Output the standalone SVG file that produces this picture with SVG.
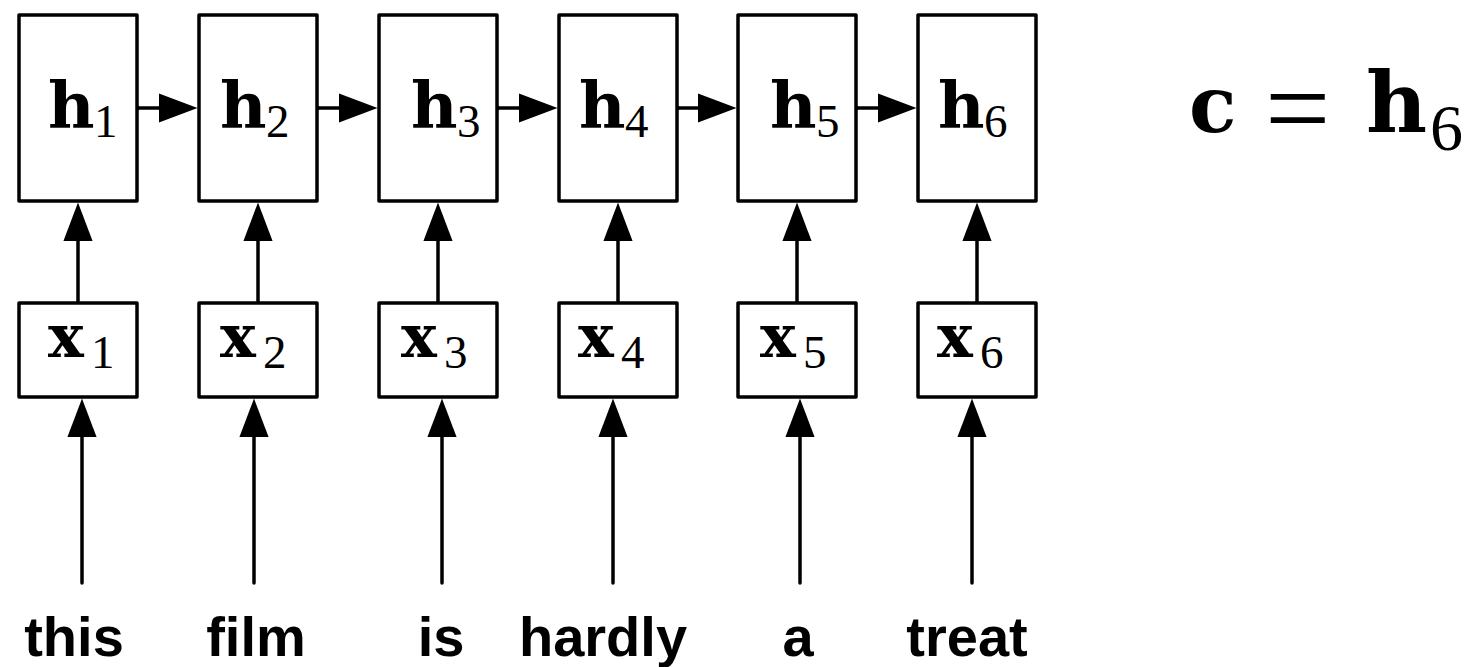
<svg xmlns="http://www.w3.org/2000/svg" width="1471" height="667" viewBox="0 0 1471 667">
  <style>
    .box { fill: #fff; stroke: #000; stroke-width: 3.5; stroke-linejoin: round; }
    .edge { fill: none; stroke: #000; stroke-width: 3.5; }
    .mb { font-family: "DejaVu Serif", serif; font-weight: bold; fill: #000; }
    .sub { font-family: "Liberation Serif", serif; font-weight: normal; fill: #000; }
    .word { font-family: "Liberation Sans", Arial, sans-serif; font-weight: bold; font-size: 56px; fill: #000; text-anchor: middle; }
  </style>
  <defs>
    <marker id="head" markerUnits="userSpaceOnUse" markerWidth="40" markerHeight="30" viewBox="0 0 38 28" refX="27" refY="14" orient="auto">
      <path d="M0,0 L37,14 L0,28 z" fill="#000"/>
    </marker>
    <marker id="dot" markerUnits="userSpaceOnUse" markerWidth="8" markerHeight="8" viewBox="0 0 8 8" refX="4" refY="4">
      <circle cx="4" cy="4" r="2.6" fill="#000"/>
    </marker>
  </defs>

  <g id="connectors">
    <!-- recurrent arrows -->
    <line class="edge" x1="137" y1="108" x2="187" y2="108" marker-start="url(#dot)" marker-end="url(#head)"/>
    <line class="edge" x1="317" y1="108" x2="367" y2="108" marker-start="url(#dot)" marker-end="url(#head)"/>
    <line class="edge" x1="497" y1="108" x2="547" y2="108" marker-start="url(#dot)" marker-end="url(#head)"/>
    <line class="edge" x1="677" y1="108" x2="726" y2="108" marker-start="url(#dot)" marker-end="url(#head)"/>
    <line class="edge" x1="856" y1="108" x2="906" y2="108" marker-start="url(#dot)" marker-end="url(#head)"/>
    <!-- x to h arrows -->
    <line class="edge" x1="78" y1="303" x2="78" y2="213" marker-end="url(#head)"/>
    <line class="edge" x1="258" y1="303" x2="258" y2="213" marker-end="url(#head)"/>
    <line class="edge" x1="438" y1="303" x2="438" y2="213" marker-end="url(#head)"/>
    <line class="edge" x1="618" y1="303" x2="618" y2="213" marker-end="url(#head)"/>
    <line class="edge" x1="797" y1="303" x2="797" y2="213" marker-end="url(#head)"/>
    <line class="edge" x1="977" y1="303" x2="977" y2="213" marker-end="url(#head)"/>
    <!-- word to x arrows -->
    <line class="edge" x1="82" y1="583" x2="82" y2="409" stroke-linecap="round" marker-end="url(#head)"/>
    <line class="edge" x1="254" y1="583" x2="254" y2="409" stroke-linecap="round" marker-end="url(#head)"/>
    <line class="edge" x1="442" y1="583" x2="442" y2="409" stroke-linecap="round" marker-end="url(#head)"/>
    <line class="edge" x1="613" y1="583" x2="613" y2="409" stroke-linecap="round" marker-end="url(#head)"/>
    <line class="edge" x1="800" y1="583" x2="800" y2="409" stroke-linecap="round" marker-end="url(#head)"/>
    <line class="edge" x1="972" y1="583" x2="972" y2="409" stroke-linecap="round" marker-end="url(#head)"/>
  </g>

  <g id="h1"><rect class="box" x="19" y="15" width="118" height="186"/>
    <text class="mb" font-size="64" x="48" y="127">h</text><text class="sub" font-size="47" x="94" y="137">1</text></g>
  <g id="h2"><rect class="box" x="199" y="15" width="118" height="186"/>
    <text class="mb" font-size="64" x="220" y="127">h</text><text class="sub" font-size="47" x="266" y="137">2</text></g>
  <g id="h3"><rect class="box" x="379" y="15" width="118" height="186"/>
    <text class="mb" font-size="64" x="411" y="127">h</text><text class="sub" font-size="47" x="457" y="137">3</text></g>
  <g id="h4"><rect class="box" x="559" y="15" width="118" height="186"/>
    <text class="mb" font-size="64" x="579" y="127">h</text><text class="sub" font-size="47" x="625" y="137">4</text></g>
  <g id="h5"><rect class="box" x="738" y="15" width="118" height="186"/>
    <text class="mb" font-size="64" x="770" y="127">h</text><text class="sub" font-size="47" x="816" y="137">5</text></g>
  <g id="h6"><rect class="box" x="918" y="15" width="118" height="186"/>
    <text class="mb" font-size="64" x="938" y="127">h</text><text class="sub" font-size="47" x="984" y="137">6</text></g>

  <g id="x1"><rect class="box" x="19" y="303" width="118" height="94"/>
    <text class="mb" font-size="60" x="48" y="357">x</text><text class="sub" font-size="47" x="91" y="368">1</text></g>
  <g id="x2"><rect class="box" x="199" y="303" width="118" height="94"/>
    <text class="mb" font-size="60" x="220" y="357">x</text><text class="sub" font-size="47" x="263" y="368">2</text></g>
  <g id="x3"><rect class="box" x="379" y="303" width="118" height="94"/>
    <text class="mb" font-size="60" x="401" y="357">x</text><text class="sub" font-size="47" x="444" y="368">3</text></g>
  <g id="x4"><rect class="box" x="559" y="303" width="118" height="94"/>
    <text class="mb" font-size="60" x="578" y="357">x</text><text class="sub" font-size="47" x="621" y="368">4</text></g>
  <g id="x5"><rect class="box" x="738" y="303" width="118" height="94"/>
    <text class="mb" font-size="60" x="760" y="357">x</text><text class="sub" font-size="47" x="803" y="368">5</text></g>
  <g id="x6"><rect class="box" x="918" y="303" width="118" height="94"/>
    <text class="mb" font-size="60" x="937" y="357">x</text><text class="sub" font-size="47" x="980" y="368">6</text></g>

  <g id="words">
    <text class="word" x="74" y="656">this</text>
    <text class="word" x="256" y="656">film</text>
    <text class="word" x="441" y="656">is</text>
    <text class="word" x="603" y="656">hardly</text>
    <text class="word" x="798" y="656">a</text>
    <text class="word" x="967" y="656">treat</text>
  </g>

  <g id="equation">
    <text class="mb" font-size="78" x="1189" y="132">c</text>
    <text class="sub" font-size="116" x="1265" y="147">=</text>
    <text class="mb" font-size="84" x="1366" y="132">h</text>
    <text class="sub" font-size="66" x="1430" y="150">6</text>
  </g>
</svg>
